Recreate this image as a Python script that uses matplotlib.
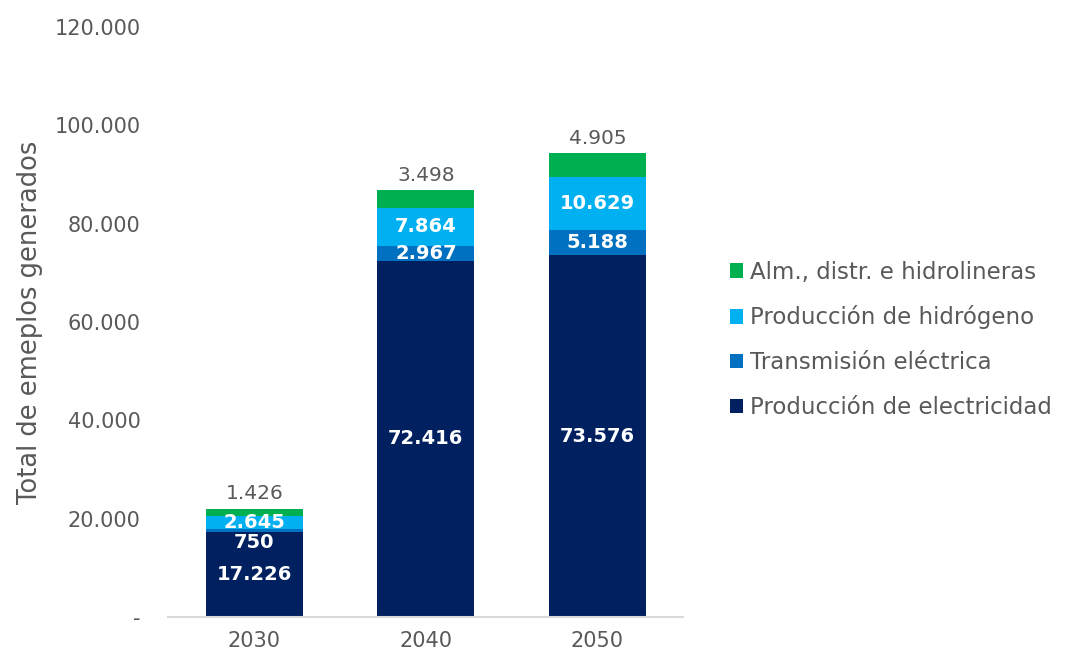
import numpy as np
import matplotlib.pyplot as plt

years = ['2030', '2040', '2050']
prod_elec = [17226, 72416, 73576]
transmision = [750, 2967, 5188]
prod_h2 = [2645, 7864, 10629]
alm_distr = [1426, 3498, 4905]

series = [
    ('Producción de electricidad', prod_elec, '#002060'),
    ('Transmisión eléctrica', transmision, '#0070C0'),
    ('Producción de hidrógeno', prod_h2, '#00B0F0'),
    ('Alm., distr. e hidrolineras', alm_distr, '#00B050'),
]

def fmt(v):
    return f'{v:,}'.replace(',', '.')

gray = '#595959'
plt.rcParams['font.family'] = ['DejaVu Sans']

fig = plt.figure(figsize=(10.66, 6.56), dpi=100)
ax = fig.add_axes([0.158, 0.0595, 0.483, 0.8995])

x = np.arange(len(years))
bottom = np.zeros(len(years))
handles = []
for i, (name, vals, color) in enumerate(series):
    vals = np.array(vals)
    bars = ax.bar(x, vals, 0.566, bottom=bottom, color=color, label=name)
    handles.append(bars)
    for j in range(len(years)):
        if i == len(series) - 1:
            ax.annotate(fmt(vals[j]), (x[j], bottom[j] + vals[j]), xytext=(0, 4),
                        textcoords='offset points', ha='center', va='bottom',
                        fontsize=14.5, color=gray)
        else:
            dy = -9 if (i == 1 and vals[j] < 1000) else 0
            ax.annotate(fmt(vals[j]), (x[j], bottom[j] + vals[j] / 2), xytext=(0, dy),
                        textcoords='offset points', ha='center', va='center',
                        fontsize=14, color='white', fontweight='bold')
    bottom += vals

ax.set_xlim(-0.5, 2.5)
ax.set_ylim(0, 120000)
ax.set_yticks(np.arange(0, 120001, 20000))
ax.set_yticklabels(['-'] + [fmt(v) for v in range(20000, 120001, 20000)])
ax.set_xticks(x)
ax.set_xticklabels(years)
ax.tick_params(axis='both', length=0, labelsize=15, colors=gray)
ax.tick_params(axis='y', pad=20)
ax.tick_params(axis='x', pad=10)
for s in ['top', 'right', 'left']:
    ax.spines[s].set_visible(False)
ax.spines['bottom'].set_color('#D9D9D9')
ax.spines['bottom'].set_linewidth(1.5)
ax.set_ylabel('Total de emeplos generados', fontsize=18.5, color=gray, labelpad=8)

fig.legend(handles[::-1], [s[0] for s in series][::-1], loc='center left',
           bbox_to_anchor=(0.665, 0.482), frameon=False, fontsize=16.5,
           handlelength=0.6, handleheight=0.6, handletextpad=0.3,
           labelspacing=0.95, labelcolor=gray)

fig.savefig('out.png', dpi=100)
